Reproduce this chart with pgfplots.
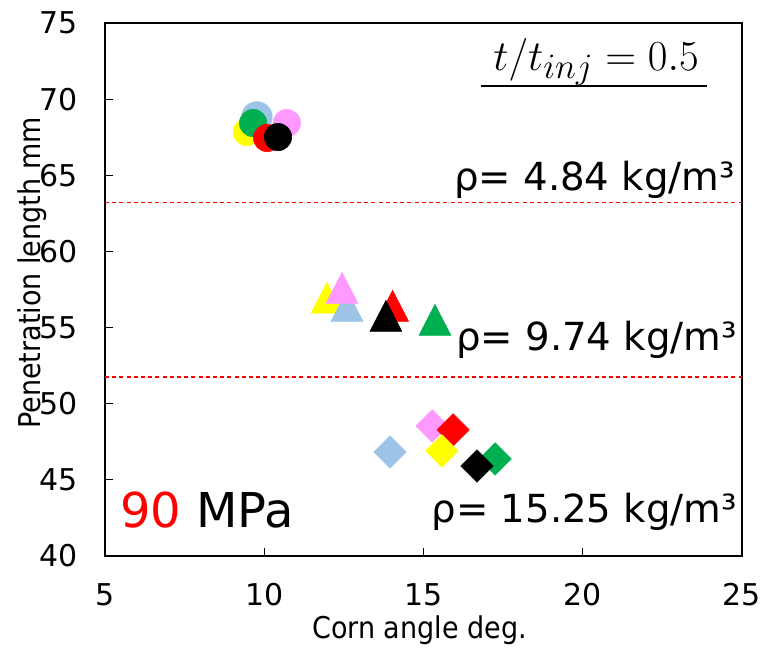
\documentclass[border=0pt]{standalone}
\usepackage{fontspec}
\setmainfont{DejaVu Sans}
\newfontfamily\condfont{DejaVu Sans Condensed}
\usepackage{pgfplots}
\pgfplotsset{compat=1.18}
\definecolor{cyel}{HTML}{FFFF00}
\definecolor{cblu}{HTML}{9DC3E6}
\definecolor{cgrn}{HTML}{00B050}
\definecolor{cpnk}{HTML}{FF99FF}
\definecolor{cred}{HTML}{FF0000}
\definecolor{cblk}{HTML}{000000}
\newcommand{\fs}{\fontsize{22.5}{27}\selectfont}
\newcommand{\fr}{\fontsize{29}{34}\selectfont}
\pgfplotsset{
  circ/.style={only marks, mark=*, mark size=10.3pt, mark options={draw=#1, fill=#1}},
  tri/.style={only marks, mark=triangle*, mark size=13.8pt, mark options={draw=#1, fill=#1, yscale=1.12}},
  dia/.style={only marks, mark=square*, mark size=8.6pt, mark options={draw=#1, fill=#1, rotate=45}},
}
\begin{document}
\begin{tikzpicture}
\path[use as bounding box] (-78.75pt,-69.75pt) rectangle (497.25pt,417pt);
\begin{axis}[
  at={(0,0)}, anchor=south west,
  scale only axis, width=477.75pt, height=399.75pt,
  xmin=5, xmax=25, ymin=40, ymax=75,
  xtick={5,10,15,20,25}, ytick={40,45,50,55,60,65,70,75},
  tick align=inside, xtick pos=bottom, ytick pos=left,
  major tick length=6pt,
  tick style={black, line width=0.8pt},
  axis line style={line width=1pt},
  /pgf/number format/assume math mode=true,
  tick label style={font=\fs},
  yticklabel style={xshift=-17pt},
  xticklabel style={yshift=-17pt},
  xlabel={Corn angle deg.},
  ylabel={Penetration length mm},
  every axis x label/.style={at={(axis description cs:0.494,0)}, anchor=center, yshift=-55.5pt, font=\condfont\fs},
  every axis y label/.style={at={(axis description cs:-0.115,0.531)}, rotate=90, anchor=center, font=\condfont\fs},
  clip=false,
]
\addplot[cred, line width=0.9pt, dash pattern=on 3pt off 2.4pt] coordinates {(5,63.2) (25,63.2)};
\addplot[cred, line width=0.9pt, dash pattern=on 3pt off 2.4pt] coordinates {(5,51.75) (25,51.75)};
% circles
\addplot[circ=cyel] coordinates {(9.46,67.84)};
\addplot[circ=cblu, mark size=11.5pt] coordinates {(9.77,68.83)};
\addplot[circ=cgrn] coordinates {(9.65,68.43)};
\addplot[circ=cpnk] coordinates {(10.71,68.43)};
\addplot[circ=cred] coordinates {(10.09,67.45)};
\addplot[circ=cblk] coordinates {(10.43,67.51)};
% triangles
\addplot[tri=cyel] coordinates {(11.97,56.62)};
\addplot[tri=cblu] coordinates {(12.6,56.09)};
\addplot[tri=cpnk] coordinates {(12.44,57.27)};
\addplot[tri=cred] coordinates {(14.03,56.09)};
\addplot[tri=cblk] coordinates {(13.82,55.43)};
\addplot[tri=cgrn] coordinates {(15.36,55.17)};
% diamonds
\addplot[dia=cblu] coordinates {(13.95,46.83)};
\addplot[dia=cpnk] coordinates {(15.27,48.54)};
\addplot[dia=cred] coordinates {(15.93,48.28)};
\addplot[dia=cyel] coordinates {(15.58,46.90)};
\addplot[dia=cgrn] coordinates {(17.25,46.37)};
\addplot[dia=cblk] coordinates {(16.68,45.91)};
% annotations
\node[anchor=east, font=\fr, inner sep=0pt] at (axis cs:24.79,64.7) {ρ= 4.84 kg/m³};
\node[anchor=east, font=\fr, inner sep=0pt] at (axis cs:24.85,54.2) {ρ= 9.74 kg/m³};
\node[anchor=east, font=\fr, inner sep=0pt] at (axis cs:24.85,42.9) {ρ= 15.25 kg/m³};
\node[anchor=west, font=\fontsize{36}{42}\selectfont, inner sep=0pt] at (axis cs:5.47,43.0) {\textcolor{cred}{90} MPa};
\node[anchor=base, font=\Huge, inner sep=0pt, scale=1.29] at (axis cs:20.42,71.91) {$t/t_{inj} = 0.5$};
\draw[line width=1.4pt] (axis cs:16.8,70.86) -- (axis cs:23.9,70.86);
\end{axis}
\end{tikzpicture}
\end{document}
